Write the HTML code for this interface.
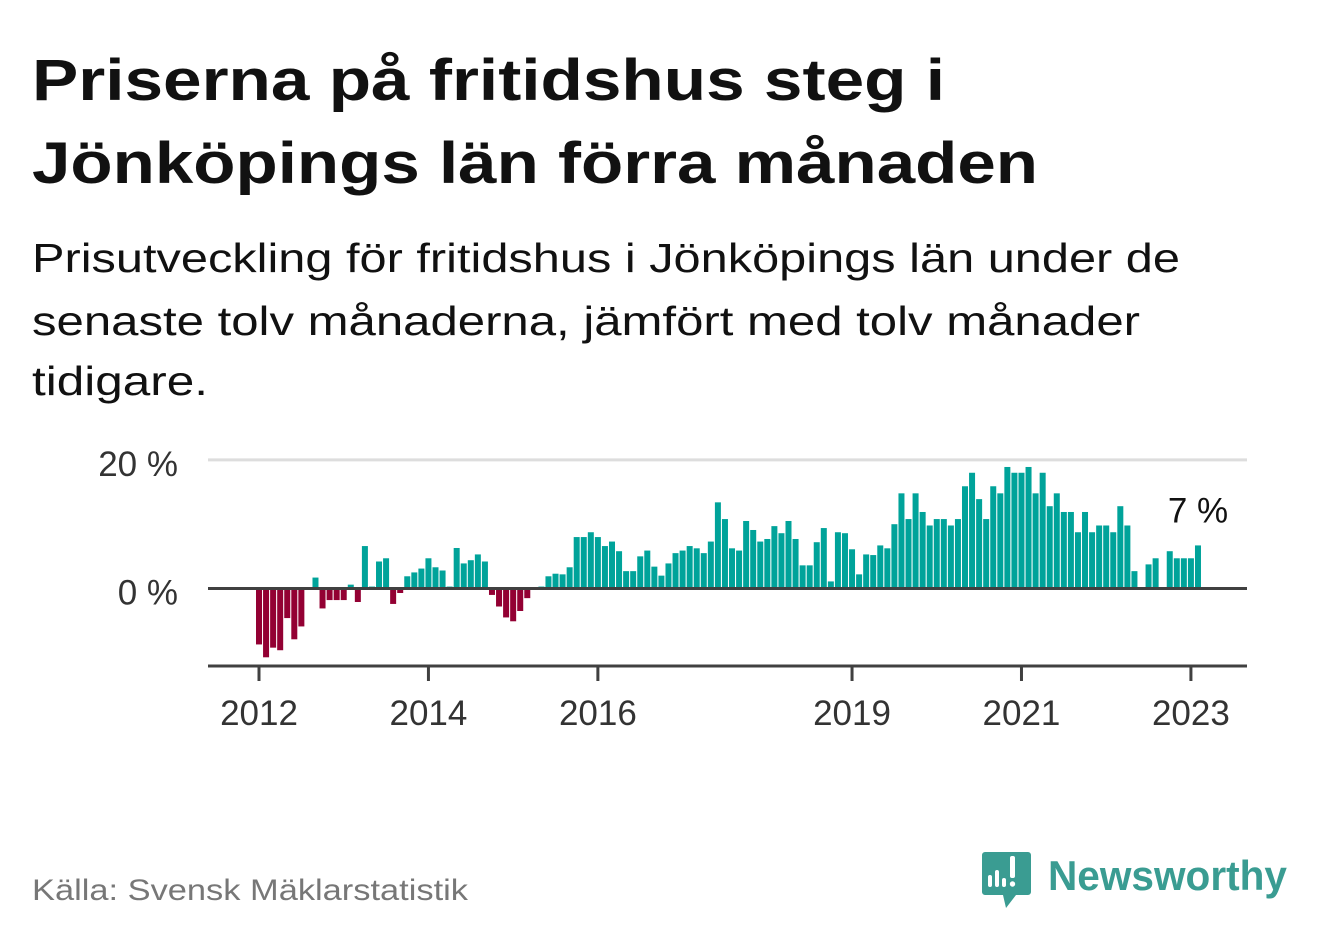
<!DOCTYPE html>
<html><head><meta charset="utf-8"><style>
html,body{margin:0;padding:0;background:#fff;}
svg{display:block;font-family:"Liberation Sans","DejaVu Sans",sans-serif;}
</style></head><body>
<svg width="1322" height="939" viewBox="0 0 1322 939">
<text x="32" y="100" font-size="58" font-weight="bold" fill="#111" textLength="913" lengthAdjust="spacingAndGlyphs">Priserna på fritidshus steg i</text>
<text x="32" y="183" font-size="58" font-weight="bold" fill="#111" textLength="1006" lengthAdjust="spacingAndGlyphs">Jönköpings län förra månaden</text>
<text x="32" y="272" font-size="41" fill="#111" textLength="1148" lengthAdjust="spacingAndGlyphs">Prisutveckling för fritidshus i Jönköpings län under de</text>
<text x="32" y="335" font-size="41" fill="#111" textLength="1108" lengthAdjust="spacingAndGlyphs">senaste tolv månaderna, jämfört med tolv månader</text>
<text x="32" y="395" font-size="41" fill="#111" textLength="176" lengthAdjust="spacingAndGlyphs">tidigare.</text>
<g id="plot"></g>
<text x="32" y="900" font-size="30" fill="#777" textLength="436" lengthAdjust="spacingAndGlyphs">Källa: Svensk Mäklarstatistik</text>
<g>
<path d="M985,852 h43 a3,3 0 0 1 3,3 v37 a3,3 0 0 1 -3,3 h-12 l-10,13 l-3,-13 h-18 a3,3 0 0 1 -3,-3 v-37 a3,3 0 0 1 3,-3 z" fill="#3a9c92"/>
<rect x="988" y="875" width="4" height="12" rx="2" fill="#fff"/>
<rect x="995" y="870" width="4" height="17" rx="2" fill="#fff"/>
<rect x="1002" y="878" width="4" height="9" rx="2" fill="#fff"/>
<rect x="1010" y="856" width="5" height="22" rx="2" fill="#fff"/>
<circle cx="1012.5" cy="884" r="2.7" fill="#fff"/>
<text x="1048" y="890" font-size="42" font-weight="bold" fill="#3a9c92" textLength="239" lengthAdjust="spacingAndGlyphs">Newsworthy</text>
</g>
</svg>
<script>
const startYear = 2012;
const values = [
-8.7,-10.7,-9.2,-9.6,-4.6,-7.9,-5.9,0.2,1.7,-3.1,-1.8,-1.8,
-1.8,0.6,-2.1,6.6,0.3,4.2,4.7,-2.4,-0.7,1.9,2.5,3.1,
4.7,3.3,2.8,0.3,6.3,3.9,4.4,5.3,4.2,-1.0,-2.8,-4.5,
-5.1,-3.5,-1.5,null,0.3,1.9,2.3,2.2,3.3,8.0,8.0,8.75,
8.0,6.6,7.3,5.8,2.7,2.7,5.0,5.9,3.4,2.0,3.9,5.5,
5.9,6.6,6.25,5.5,7.3,13.4,10.8,6.25,5.9,10.5,9.1,7.3,
7.7,9.7,8.6,10.5,7.7,3.6,3.6,7.2,9.4,1.1,8.75,8.6,
6.1,2.2,5.3,5.2,6.7,6.25,10.0,14.8,10.8,14.8,11.9,9.8,
10.8,10.8,9.8,10.8,15.9,18.0,13.9,10.8,15.9,14.8,18.9,18.0,
18.0,18.9,14.8,18.0,12.8,14.8,11.9,11.9,8.75,11.9,8.75,9.8,
9.8,8.75,12.8,9.8,2.7,null,3.75,4.7,null,5.8,4.7,4.7,
4.7,6.7
];
const yTicks = [0, 20];
const yTickLabels = ["0 %", "20 %"];
const xTickYears = [2012, 2014, 2016, 2019, 2021, 2023];
const lastLabel = "7 %";

const NS = "http://www.w3.org/2000/svg";
const plot = document.getElementById("plot");
const X0 = 259, MONTH = 7.06, Y0 = 588.5, PXPCT = 6.43;
function xScale(idx){ return X0 + idx*MONTH; }
function yScale(v){ return Y0 - v*PXPCT; }
function mk(tag, attrs){ const e=document.createElementNS(NS,tag); for(const k in attrs) e.setAttribute(k,attrs[k]); plot.appendChild(e); return e; }

yTicks.forEach((t,i)=>{
  if(t!==0){
    const g = mk("line",{x1:208,x2:1247,y1:yScale(t),y2:yScale(t),stroke:"#ddd","stroke-width":3});
    
    
  }
  const lb = mk("text",{x:178,y:yScale(t)+16,"font-size":35,fill:"#333","text-anchor":"end"});
  lb.textContent = yTickLabels[i];
  
  
});

values.forEach((v,i)=>{
  if(v===null) return;
  const y = v>=0 ? yScale(v) : Y0;
  const h = Math.abs(yScale(v)-Y0);
  const r = mk("rect",{x:xScale(i)-3,y:y,width:6,height:h,fill: v>=0 ? "#00a39a" : "#930033"});
  
  
});

const zl = mk("line",{x1:208,x2:1247,y1:Y0,y2:Y0,stroke:"#404040","stroke-width":3});


const ax = mk("line",{x1:208,x2:1247,y1:666,y2:666,stroke:"#404040","stroke-width":3});



xTickYears.forEach(yr=>{
  const x = xScale((yr-startYear)*12);
  const tk = mk("line",{x1:x,x2:x,y1:666,y2:681,stroke:"#404040","stroke-width":3});
  
  
  const lb = mk("text",{x:x,y:725,"font-size":35,fill:"#333","text-anchor":"middle"});
  lb.textContent = String(yr);
  
  
});

const lastIdx = values.length-1;
const vl = mk("text",{x:xScale(lastIdx),y:yScale(values[lastIdx])-23,"font-size":35,fill:"#111","text-anchor":"middle"});
vl.textContent = lastLabel;


</script>
</body></html>
